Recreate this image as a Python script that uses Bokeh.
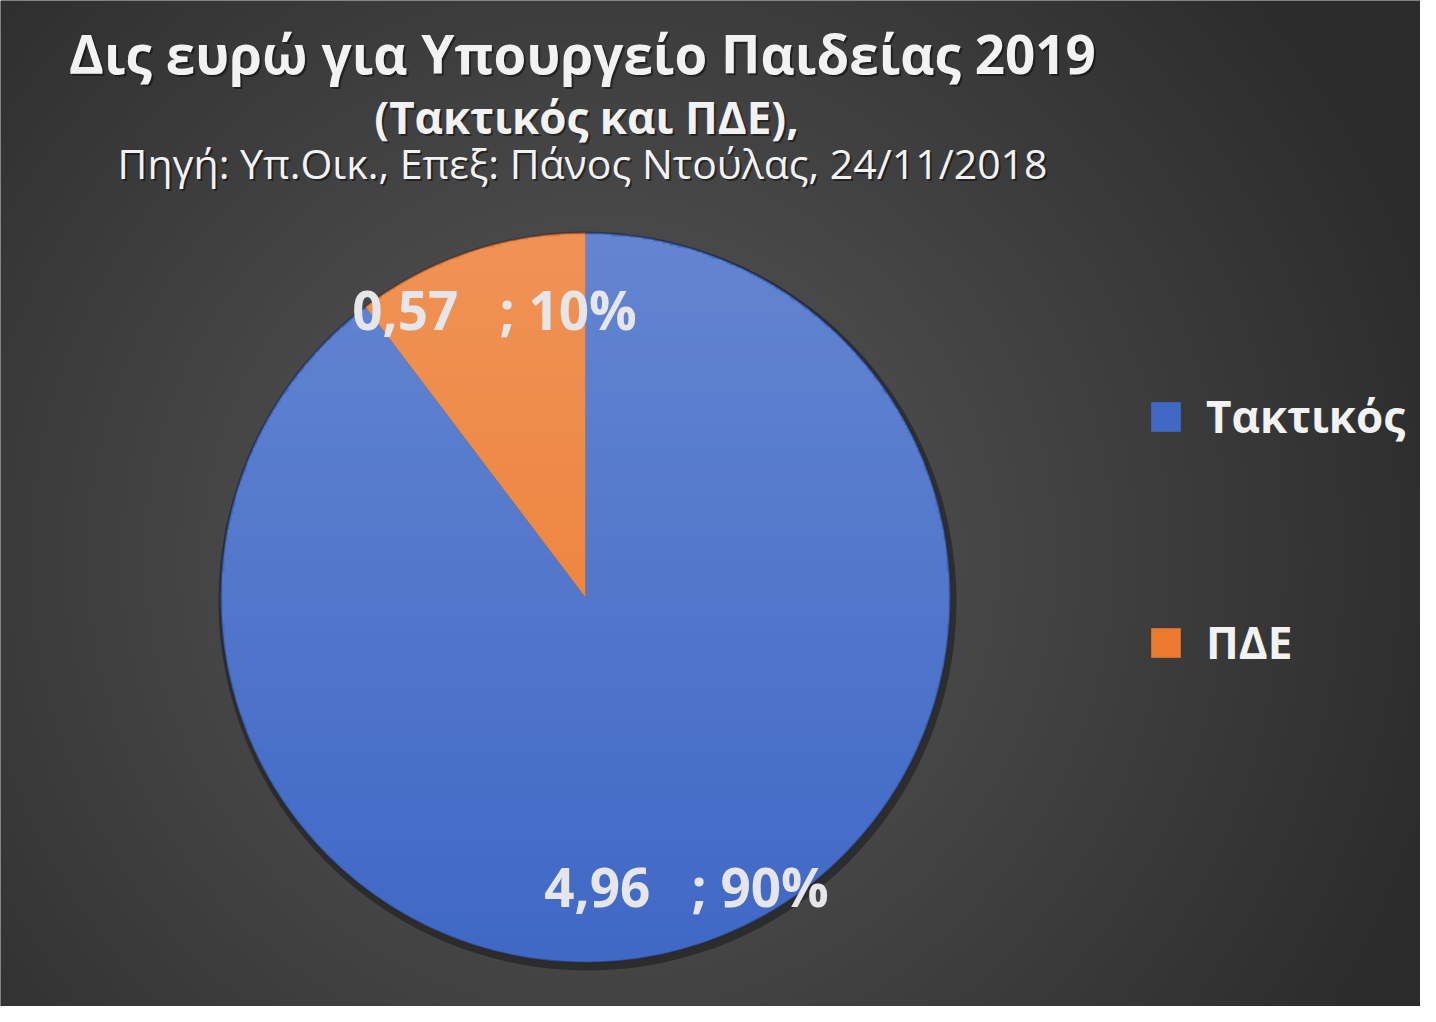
import numpy as np
from bokeh.plotting import figure
from bokeh.models import ColumnDataSource, Range1d, Legend, LegendItem
from bokeh.core.properties import value
from bokeh.embed import file_html
from bokeh.resources import INLINE

# ---- data ----
categories = ["Τακτικός", "ΠΔΕ"]
amounts = [4.96, 0.57]
amount_labels = ["4,96", "0,57"]
colors = ["#4069C6", "#EC7A2E"]
title_lines = [
    "Δις ευρώ για Υπουργείο Παιδείας 2019",
    "(Τακτικός και ΠΔΕ),",
    "Πηγή: Υπ.Οικ., Επεξ: Πάνος Ντούλας, 24/11/2018",
]

W, H = 1420, 1006
FONT = "Open Sans"

p = figure(width=W, height=H, output_backend="svg", toolbar_location=None,
           x_range=Range1d(0, W), y_range=Range1d(0, H), min_border=0)
p.axis.visible = False
p.grid.visible = False
p.outline_line_color = None
p.background_fill_color = "#404040"
p.border_fill_color = "#404040"

# background radial gradient (decoration)
nx, ny = 355, 252
gx, gy = np.meshgrid(np.linspace(0, W, nx), np.linspace(0, H, ny))
cx, cy = 600, 450
d = np.sqrt((gx - cx) ** 2 + (gy - cy) ** 2) / 880.0
d = np.clip(d, 0, 1)
c0, c1 = 90, 44
g = (c0 + (c1 - c0) * d).astype(np.uint32)
img = (255 << 24) | (g << 16) | (g << 8) | g
p.image_rgba(image=[img.astype(np.uint32)], x=0, y=0, dw=W, dh=H)

# pie geometry
PCX, PCY, R = 585, 409, 365
total = sum(amounts)
fracs = [a / total for a in amounts]
cum = np.cumsum([0] + fracs)
start = [np.pi / 2 - cum[i + 1] * 2 * np.pi for i in range(len(amounts))]
end = [np.pi / 2 - cum[i] * 2 * np.pi for i in range(len(amounts))]

src = ColumnDataSource(dict(cat=categories, amt=amounts, start=start, end=end, color=colors))

# shadow
p.circle(x=[PCX + 2], y=[PCY - 4], radius=R + 4, fill_color="black", fill_alpha=0.35, line_color=None)
r = p.wedge(x=PCX, y=PCY, radius=R, start_angle="start", end_angle="end",
            direction="anticlock", fill_color="color", line_color=None, source=src)

# vertical light gradient over the pie (decoration)
n = 400
ux, uy = np.meshgrid(np.linspace(-1, 1, n), np.linspace(-1, 1, n))
inside = (ux ** 2 + uy ** 2) <= 0.995
alpha = np.where(inside, np.clip((uy + 1) / 2, 0, 1) * 0.19 * 255, 0).astype(np.uint32)
ov = (alpha << 24) | (255 << 16) | (255 << 8) | 255
p.image_rgba(image=[ov.astype(np.uint32)], x=PCX - R, y=PCY - R, dw=2 * R, dh=2 * R)

p.circle(x=[PCX], y=[PCY], radius=R, fill_color=None, line_color="#1e2638", line_alpha=0.45, line_width=2)

# data labels
NB = "\u00a0"
pcts = [f"{round(f * 100):.0f}%" for f in fracs]
lab_text = [f"{amount_labels[i]}{NB * 3};{NB}{pcts[i]}" for i in range(len(amounts))]
lab_x = [686, 494]
lab_y = [120, 697]
p.text(x=lab_x, y=lab_y, text=lab_text, text_align="center", text_baseline="middle",
       text_font=value(FONT), text_font_style="bold", text_font_size="53px", text_color="#E6E6EA")

# titles
tx = [582, 586, 582]
ty = [953, 890, 844]
sizes = ["53px", "44px", "41px"]
styles = ["bold", "bold", "normal"]
for i in range(3):
    p.text(x=[tx[i] + 2], y=[ty[i] - 2], text=[title_lines[i]], text_align="center", text_baseline="middle",
           text_font=value(FONT), text_font_style=styles[i], text_font_size=sizes[i],
           text_color="black", text_alpha=0.45)
    p.text(x=[tx[i]], y=[ty[i]], text=[title_lines[i]], text_align="center", text_baseline="middle",
           text_font=value(FONT), text_font_style=styles[i], text_font_size=sizes[i],
           text_color="#F2F2F2")

legend = Legend(items=[LegendItem(label=categories[i], renderers=[r], index=i) for i in range(len(categories))],
                location=(1147, 334), orientation="vertical",
                background_fill_alpha=0, border_line_color=None,
                label_text_color="#F2F2F2", label_text_font=FONT, label_text_font_style="bold",
                label_text_font_size="44px", glyph_width=37, glyph_height=37,
                spacing=166, padding=0, margin=0, label_standoff=22)
p.add_layout(legend, "center")

open("out.html", "w").write(file_html(p, INLINE))
